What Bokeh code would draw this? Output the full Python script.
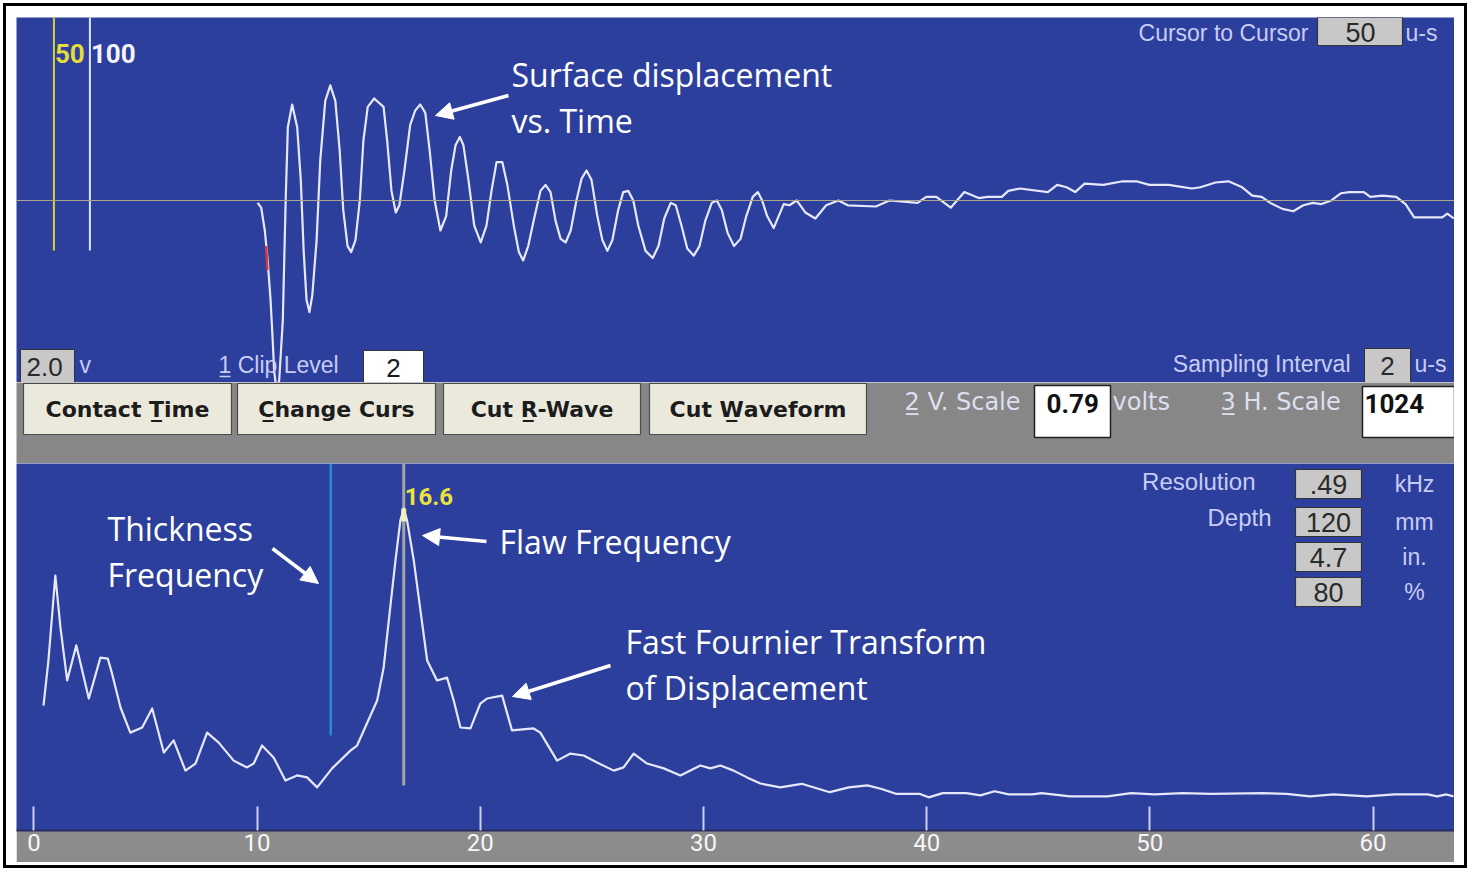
from bokeh.plotting import figure
from bokeh.layouts import column
from bokeh.models import Range1d, Label, Arrow, NormalHead, Span, LinearAxis, FixedTicker
from bokeh.embed import file_html
from bokeh.resources import INLINE

# ---------------- data ----------------
# surface displacement vs time (time in micro-seconds, amplitude in volts)
wave_t = [333, 338, 343, 347, 351, 354, 356, 359, 363, 368,
          372, 375, 381, 388, 393, 397, 401, 405, 409, 415,
          420, 427, 434, 441, 447, 452, 458, 463, 469, 475,
          480, 486, 495, 508, 513, 519, 525, 530, 537, 545,
          552, 559, 566, 572, 579, 587, 595, 602, 608, 614,
          619, 626, 634, 643, 651, 658, 665, 673, 680, 689,
          696, 702, 709, 718, 726, 733, 740, 747, 754, 761,
          768, 776, 783, 790, 797, 805, 812, 819, 826, 834,
          841, 848, 855, 862, 872, 882, 890, 898, 907, 914,
          922, 930, 939, 947, 955, 964, 971, 978, 986, 995,
          1004, 1012, 1021, 1028, 1034, 1041, 1050, 1057, 1064, 1072,
          1082, 1094, 1108, 1123, 1140, 1153, 1192, 1211, 1250, 1262,
          1276, 1296, 1315, 1335, 1347, 1367, 1376, 1392, 1431, 1444,
          1457, 1469, 1482, 1508, 1535, 1554, 1572, 1599, 1631, 1643,
          1664, 1682, 1701, 1715, 1728, 1740, 1757, 1772, 1786, 1799,
          1811, 1825, 1838, 1850, 1870, 1879, 1896, 1915, 1928, 1940,
          1979, 1986, 1995]
wave_v = [-0.02, -0.06, -0.25, -0.50, -0.83, -1.17, -1.42, -1.57, -1.50, -1.00,
          0.00, 0.61, 0.80, 0.61, 0.17, -0.42, -0.83, -0.93, -0.79, -0.33,
          0.33, 0.83, 0.96, 0.83, 0.42, -0.08, -0.38, -0.43, -0.33, 0.00,
          0.50, 0.78, 0.85, 0.78, 0.50, 0.08, -0.10, -0.04, 0.25, 0.63,
          0.75, 0.80, 0.73, 0.42, 0.00, -0.25, -0.13, 0.25, 0.46, 0.53,
          0.46, 0.17, -0.21, -0.35, -0.21, 0.08, 0.32, 0.32, 0.13, -0.21,
          -0.43, -0.50, -0.38, -0.13, 0.08, 0.13, 0.07, -0.17, -0.32, -0.35,
          -0.25, 0.00, 0.18, 0.25, 0.17, -0.13, -0.33, -0.42, -0.33, -0.08,
          0.07, 0.08, 0.00, -0.21, -0.42, -0.48, -0.38, -0.15, -0.02, -0.04,
          -0.21, -0.40, -0.46, -0.38, -0.17, -0.02, 0.00, -0.08, -0.27, -0.38,
          -0.32, -0.13, 0.03, 0.07, 0.00, -0.13, -0.23, -0.13, -0.03, -0.04,
          0.00, -0.10, -0.15, -0.04, 0.00, -0.04, -0.05, 0.00, -0.02, 0.03,
          0.03, -0.06, 0.07, 0.02, 0.03, 0.03, 0.08, 0.10, 0.07, 0.13,
          0.11, 0.07, 0.14, 0.13, 0.16, 0.16, 0.13, 0.13, 0.10, 0.11,
          0.15, 0.16, 0.11, 0.04, 0.03, -0.02, -0.07, -0.09, -0.04, -0.02,
          -0.03, 0.00, 0.06, 0.07, 0.07, 0.03, 0.04, 0.03, -0.03, -0.14,
          -0.14, -0.11, -0.15]

# FFT of displacement (frequency in kHz, amplitude in % of peak)
fft_khz = [0.43, 0.65, 0.96, 1.19, 1.49, 1.90, 2.46, 2.98, 3.31, 3.50,
           3.88, 4.32, 4.85, 5.30, 5.82, 6.26, 6.79, 7.24, 7.76, 8.28,
           8.95, 9.55, 9.85, 10.22, 10.74, 11.27, 11.79, 12.24, 12.69, 13.36,
           14.18, 14.48, 15.38, 15.67, 15.90, 16.20, 16.42, 16.57, 16.72, 17.02,
           17.32, 17.62, 18.06, 18.51, 18.81, 19.11, 19.56, 20.00, 20.30, 20.98,
           21.42, 22.39, 22.69, 23.44, 24.04, 24.63, 25.23, 25.98, 26.42, 26.87,
           27.47, 28.22, 28.97, 29.86, 30.31, 30.76, 31.35, 31.95, 32.55, 33.44,
           34.40, 35.66, 36.51, 37.35, 37.98, 38.62, 39.67, 40.09, 40.72, 41.78,
           42.41, 43.04, 43.68, 44.73, 45.15, 46.42, 48.10, 49.16, 50.21, 51.48,
           52.75, 55.07, 56.12, 57.18, 58.23, 59.71, 60.97, 62.45, 62.87, 63.29, 63.60]
fft_amp = [38.8, 52.8, 79.2, 63.0, 46.6, 57.5, 41.0, 53.7, 53.4, 48.8,
           38.2, 30.4, 32.0, 37.9, 24.2, 28.0, 18.6, 20.8, 30.4, 27.3,
           21.7, 19.6, 20.8, 26.4, 22.7, 15.5, 17.1, 16.5, 13.4, 19.3,
           24.8, 26.4, 40.4, 50.6, 65.2, 83.9, 96.3, 100.0, 96.3, 83.9,
           68.3, 52.8, 46.6, 47.5, 40.4, 32.0, 31.7, 39.4, 41.0, 41.9,
           31.1, 31.7, 30.4, 21.7, 23.9, 23.3, 21.1, 18.6, 19.6, 23.9,
           20.8, 19.3, 17.1, 20.2, 19.3, 20.2, 18.6, 16.5, 14.6, 13.4,
           14.5, 11.9, 13.4, 14.0, 12.9, 11.4, 11.4, 10.3, 11.6, 11.6,
           10.9, 12.2, 11.2, 11.2, 11.6, 10.6, 10.6, 11.6, 11.2, 11.6,
           11.4, 11.6, 11.4, 10.6, 11.2, 10.6, 11.2, 11.2, 10.6, 11.2, 10.6]

cursor_times = [50, 100]
cursor_labels = ["50", "100"]
contact_time = 345
flaw_khz = 16.57
flaw_label = "16.6"
thickness_khz = 13.3
khz_ticks = [0, 10, 20, 30, 40, 50, 60]
buttons = ["Contact T\u0332ime", "C\u0332hange Curs", "Cut R\u0332-Wave", "Cut W\u0332aveform"]
readout_values = [".49", "120", "4.7", "80"]
readout_units = ["kHz", "mm", "in.", "%"]

# ---------------- styling / layout ----------------
BLUE = "#2d3f9c"
BAR = "#878787"
STRIP = "#8c8c8c"
LAV = "#c8ccf4"
TRACE = "#e6e8ff"
BOXG = "#c8c8c8"
PANEL_W = 1438
TOP_H, MID_H, BOT_H = 365, 81, 367
T0, T1, V0, V1 = -2, 1996, -1.517, 1.525
K0, K1, A0, A1 = -0.78, 63.65, 0, 114
SANS = "Liberation Sans"
NARROW = "Roboto"
CAL = "Open Sans"

def TX(px): return T0 + (px - 16) * (T1 - T0) / PANEL_W
def TY(py): return V1 - (py - 17) * (V1 - V0) / TOP_H
def BX(px): return K0 + (px - 16) * (K1 - K0) / PANEL_W
def BY(py): return A1 - (py - 463) * (A1 - A0) / BOT_H

def lab(fig, x, y, txt, size, color, font=SANS, style="normal", align="left", baseline="middle"):
    fig.add_layout(Label(x=x, y=y, text=txt, text_font_size=f"{size}px", text_color=color,
                         text_font=font, text_font_style=style, text_align=align,
                         text_baseline=baseline))

def arrow(fig, x0, y0, x1, y1):
    fig.add_layout(Arrow(end=NormalHead(size=17, fill_color="white", line_color="white", line_width=1),
                         x_start=x0, y_start=y0, x_end=x1, y_end=y1,
                         line_color="white", line_width=3.5))

def base_fig(**kw):
    f = figure(output_backend="svg", toolbar_location=None, x_axis_location=None,
               y_axis_location=None, outline_line_color=None, **kw)
    f.grid.visible = False
    return f

# ---------------- top panel: displacement vs time ----------------
top = base_fig(width=PANEL_W, height=TOP_H, x_range=Range1d(T0, T1), y_range=Range1d(V0, V1),
               background_fill_color=BLUE, border_fill_color=BLUE, min_border=0)
top.add_layout(Span(location=0, dimension="width", line_color="#aaa58c", line_width=1.2))
cur_col = ["#d8cf3c", "#dfe2ff"]
top.segment(x0=cursor_times, x1=cursor_times, y0=[TY(250)] * 2, y1=[V1] * 2,
            line_color=cur_col, line_width=2)
for t, s, c in zip(cursor_times, cursor_labels, ["#e4dc3a", "#f4f4ff"]):
    top.add_layout(Label(x=t, y=TY(53), text=s, text_font_size="26px", text_color=c,
                         text_font=NARROW, text_font_style="bold", text_align="left",
                         text_baseline="middle", x_offset=1))
top.line(wave_t, wave_v, line_color=TRACE, line_width=2.2, line_join="round")
top.segment(x0=[contact_time], x1=[contact_time + 1.5], y0=[-0.38], y1=[-0.58],
            line_color="#d23a3a", line_width=2.5)

# readouts in top panel
lab(top, TX(1308), TY(32), "Cursor to Cursor", 23, LAV, align="right")
top.quad(left=[TX(1317)], right=[TX(1402)], top=[TY(17)], bottom=[TY(45)],
         fill_color=BOXG, line_color="#333333", line_width=1.2)
lab(top, TX(1360), TY(32), "50", 27, "#2a2a2a", align="center")
lab(top, TX(1405), TY(32), "u-s", 23, LAV)

top.quad(left=[TX(20)], right=[TX(74)], top=[TY(349)], bottom=[TY(382)],
         fill_color=BOXG, line_color="#333333", line_width=1)
lab(top, TX(26), TY(366), "2.0", 26, "#2a2a2a")
lab(top, TX(79), TY(364), "v", 23, LAV)
lab(top, TX(218), TY(364), "1 Clip Level", 23, LAV)
top.segment(x0=[TX(219)], x1=[TX(230)], y0=[TY(376)], y1=[TY(376)], line_color=LAV, line_width=1.5)
top.quad(left=[TX(363)], right=[TX(423)], top=[TY(350)], bottom=[TY(382)],
         fill_color="white", line_color="#333333", line_width=1)
lab(top, TX(393), TY(367), "2", 26, "#1a1a1a", align="center")
lab(top, TX(1350), TY(363), "Sampling Interval", 23, LAV, align="right")
top.quad(left=[TX(1364)], right=[TX(1410)], top=[TY(348)], bottom=[TY(382)],
         fill_color=BOXG, line_color="#333333", line_width=1)
lab(top, TX(1387), TY(365), "2", 26, "#2a2a2a", align="center")
lab(top, TX(1414), TY(363), "u-s", 23, LAV)

lab(top, TX(511), TY(74), "Surface displacement", 32, "white", font=CAL)
lab(top, TX(511), TY(120), "vs. Time", 32, "white", font=CAL)
arrow(top, TX(508), TY(95), TX(435), TY(115))

# ---------------- middle button bar ----------------
mid = base_fig(width=PANEL_W, height=MID_H, x_range=Range1d(0, PANEL_W), y_range=Range1d(MID_H, 0),
               background_fill_color=BAR, border_fill_color=BAR, min_border=0)
b_left = [7, 221, 427, 633]
b_right = [215, 419, 624, 850]
mid.quad(left=b_left, right=b_right, top=[1] * 4, bottom=[52] * 4,
         fill_color="#ebe8dc", line_color="#4a4a4a", line_width=1.2)
for l, r, s in zip(b_left, b_right, buttons):
    mid.add_layout(Label(x=(l + r) / 2, y=27, text=s, text_font_size="22px", text_color="#1c1c1c",
                         text_font="DejaVu Sans", text_font_style="bold", text_align="center",
                         text_baseline="middle"))
lab(mid, 888, 19, "2\u0332 V. Scale", 24, "#dedfee", font="DejaVu Sans")
mid.quad(left=[1018], right=[1094], top=[3], bottom=[55], fill_color="white",
         line_color="#202020", line_width=1.5)
lab(mid, 1030, 21, "0.79", 26, "#111111", font=NARROW, style="bold")
lab(mid, 1096, 19, "volts", 24, "#dedfee", font="DejaVu Sans")
lab(mid, 1204, 19, "3\u0332 H. Scale", 24, "#dedfee", font="DejaVu Sans")
mid.quad(left=[1346], right=[1438], top=[4], bottom=[55], fill_color="white",
         line_color="#202020", line_width=1.5)
lab(mid, 1348, 21, "1024", 26, "#111111", font=NARROW, style="bold")

# ---------------- bottom panel: FFT ----------------
bot = base_fig(frame_width=PANEL_W, frame_height=BOT_H, x_range=Range1d(K0, K1), y_range=Range1d(A0, A1),
               background_fill_color=BLUE, border_fill_color=STRIP,
               min_border_left=0, min_border_right=0, min_border_top=0, min_border_bottom=32)
ax = LinearAxis(ticker=FixedTicker(ticks=khz_ticks), major_tick_in=24, major_tick_out=0,
                minor_tick_line_color=None, major_tick_line_color="#cdd0f2", major_tick_line_width=2,
                axis_line_color="#262c62", axis_line_width=2,
                major_label_text_color="#f6f6f6", major_label_text_font=NARROW,
                major_label_text_font_size="24px", major_label_standoff=3)
bot.add_layout(ax, "below")
bot.segment(x0=[thickness_khz], x1=[thickness_khz], y0=[BY(735)], y1=[A1],
            line_color="#1e8fd6", line_width=2.5)
bot.segment(x0=[flaw_khz], x1=[flaw_khz], y0=[BY(785)], y1=[A1],
            line_color="#a4a4a4", line_width=3)
bot.line(fft_khz, fft_amp, line_color=TRACE, line_width=2.2, line_join="round")
bot.segment(x0=[flaw_khz], x1=[flaw_khz], y0=[96], y1=[100], line_color="#f2f0b8", line_width=5)
bot.add_layout(Label(x=flaw_khz, y=BY(496), text=flaw_label, text_font_size="24px", text_color="#ece43c",
                     text_font=NARROW, text_font_style="bold", text_align="left",
                     text_baseline="middle", x_offset=1))

lab(bot, BX(1255), BY(481), "Resolution", 24, LAV, align="right")
lab(bot, BX(1271), BY(517), "Depth", 24, LAV, align="right")
r_top = [469, 507, 542, 577]
bot.quad(left=[BX(1295)] * 4, right=[BX(1361)] * 4, top=[BY(v) for v in r_top],
         bottom=[BY(v + 29) for v in r_top], fill_color=BOXG, line_color="#333333", line_width=1.2)
for ty, s, u in zip(r_top, readout_values, readout_units):
    lab(bot, BX(1328), BY(ty + 15), s, 27, "#2a2a2a", align="center")
    lab(bot, BX(1414), BY(ty + 14), u, 23, LAV, align="center")

lab(bot, BX(107), BY(528), "Thickness", 32, "white", font=CAL)
lab(bot, BX(107), BY(574), "Frequency", 32, "white", font=CAL)
arrow(bot, BX(272), BY(548), BX(318), BY(583))
lab(bot, BX(499), BY(541), "Flaw Frequency", 32, "white", font=CAL)
arrow(bot, BX(486), BY(541), BX(422), BY(535))
lab(bot, BX(625), BY(641), "Fast Fournier Transform", 32, "white", font=CAL)
lab(bot, BX(625), BY(687), "of Displacement", 32, "white", font=CAL)
arrow(bot, BX(610), BY(665), BX(512), BY(696))

layout = column([top, mid, bot], spacing=0, margin=(3, 0, 0, 3),
                styles={"border": "3px solid black", "padding": "11px 10px 3px 10px",
                        "background-color": "white"})

open("out.html", "w").write(file_html(layout, INLINE))
